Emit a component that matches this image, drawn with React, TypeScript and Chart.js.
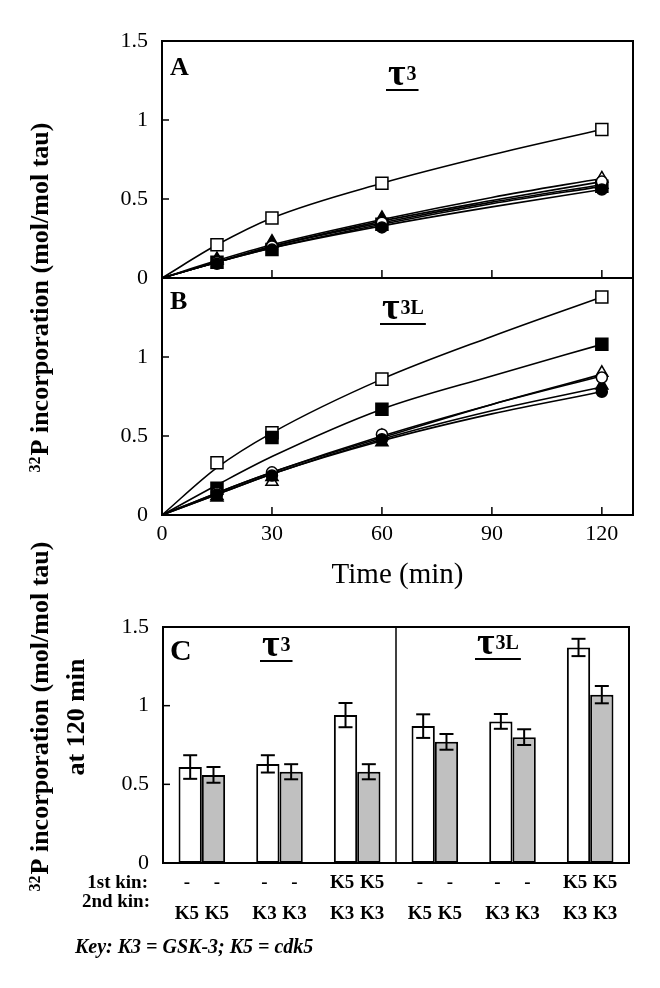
import React, { useEffect, useRef } from "react";
import { Chart, registerables } from "chart.js";

Chart.register(...registerables);

const FONT = '"Liberation Serif", "Times New Roman", Times, serif';

// ---------- Panels A & B : time course ----------
const TIME_MIN = [15, 30, 60, 120];
const FIT_TIME_MIN = [0, 15, 30, 60, 90, 120];
const X_TICK_VALUES = [0, 30, 60, 90, 120];
const Y_TICK_VALUES = [0, 0.5, 1, 1.5];

// Panel A (tau3) – measured points
const A_OPEN_SQUARE = [0.21, 0.38, 0.6, 0.94];
const A_FILLED_SQUARE = [0.1, 0.18, 0.34, 0.58];
const A_OPEN_TRIANGLE = [0.11, 0.23, 0.38, 0.63];
const A_FILLED_TRIANGLE = [0.12, 0.22, 0.37, 0.59];
const A_OPEN_CIRCLE = [0.1, 0.2, 0.35, 0.61];
const A_FILLED_CIRCLE = [0.09, 0.18, 0.32, 0.56];
// Panel A – fitted curves
const A_OPEN_SQUARE_FIT = [0, 0.21, 0.38, 0.6, 0.78, 0.94];
const A_FILLED_SQUARE_FIT = [0, 0.1, 0.19, 0.34, 0.47, 0.58];
const A_OPEN_TRIANGLE_FIT = [0, 0.11, 0.21, 0.37, 0.51, 0.63];
const A_FILLED_TRIANGLE_FIT = [0, 0.1, 0.2, 0.35, 0.48, 0.59];
const A_OPEN_CIRCLE_FIT = [0, 0.1, 0.2, 0.36, 0.49, 0.61];
const A_FILLED_CIRCLE_FIT = [0, 0.1, 0.19, 0.33, 0.45, 0.56];

// Panel B (tau3L) – measured points
const B_OPEN_SQUARE = [0.33, 0.52, 0.86, 1.38];
const B_FILLED_SQUARE = [0.17, 0.49, 0.67, 1.08];
const B_OPEN_TRIANGLE = [0.12, 0.21, 0.5, 0.9];
const B_FILLED_TRIANGLE = [0.11, 0.24, 0.46, 0.82];
const B_OPEN_CIRCLE = [0.14, 0.27, 0.51, 0.87];
const B_FILLED_CIRCLE = [0.13, 0.25, 0.48, 0.78];
// Panel B – fitted curves
const B_OPEN_SQUARE_FIT = [0, 0.3, 0.52, 0.86, 1.13, 1.38];
const B_FILLED_SQUARE_FIT = [0, 0.19, 0.37, 0.67, 0.88, 1.08];
const B_OPEN_TRIANGLE_FIT = [0, 0.14, 0.27, 0.49, 0.7, 0.89];
const B_FILLED_TRIANGLE_FIT = [0, 0.13, 0.26, 0.48, 0.66, 0.81];
const B_OPEN_CIRCLE_FIT = [0, 0.14, 0.27, 0.5, 0.7, 0.88];
const B_FILLED_CIRCLE_FIT = [0, 0.13, 0.26, 0.47, 0.64, 0.78];

// ---------- Panel C : 120 min values ----------
const C_GROUPS = ["τ3 -/K5", "τ3 -/K3", "τ3 K5/K3", "τ3L -/K5", "τ3L -/K3", "τ3L K5/K3"];
const C_WHITE = [0.61, 0.63, 0.94, 0.87, 0.9, 1.37];
const C_WHITE_ERR = [0.075, 0.055, 0.077, 0.075, 0.047, 0.055];
const C_GREY = [0.56, 0.58, 0.58, 0.77, 0.8, 1.07];
const C_GREY_ERR = [0.05, 0.048, 0.048, 0.05, 0.05, 0.055];
const FIRST_KIN = ["-", "-", "K5", "-", "-", "K5"];
const SECOND_KIN = ["K5", "K3", "K3", "K5", "K3", "K3"];

// marker styles, in the order of the series lists below
const MARKERS = [
  { style: "rect", filled: false, radius: 8.5 },
  { style: "rect", filled: true, radius: 8.5 },
  { style: "triangle", filled: false, radius: 7 },
  { style: "triangle", filled: true, radius: 7 },
  { style: "circle", filled: false, radius: 5.5 },
  { style: "circle", filled: true, radius: 5.5 },
];

const A_POINTS = [A_OPEN_SQUARE, A_FILLED_SQUARE, A_OPEN_TRIANGLE, A_FILLED_TRIANGLE, A_OPEN_CIRCLE, A_FILLED_CIRCLE];
const A_FITS = [A_OPEN_SQUARE_FIT, A_FILLED_SQUARE_FIT, A_OPEN_TRIANGLE_FIT, A_FILLED_TRIANGLE_FIT, A_OPEN_CIRCLE_FIT, A_FILLED_CIRCLE_FIT];
const B_POINTS = [B_OPEN_SQUARE, B_FILLED_SQUARE, B_OPEN_TRIANGLE, B_FILLED_TRIANGLE, B_OPEN_CIRCLE, B_FILLED_CIRCLE];
const B_FITS = [B_OPEN_SQUARE_FIT, B_FILLED_SQUARE_FIT, B_OPEN_TRIANGLE_FIT, B_FILLED_TRIANGLE_FIT, B_OPEN_CIRCLE_FIT, B_FILLED_CIRCLE_FIT];

function drawTau(ctx: CanvasRenderingContext2D, x: number, baseline: number, sup: string) {
  ctx.save();
  ctx.fillStyle = "#000";
  ctx.textAlign = "left";
  ctx.textBaseline = "alphabetic";
  ctx.font = `bold 38px ${FONT}`;
  ctx.fillText("τ", x, baseline);
  const w = ctx.measureText("τ").width;
  ctx.font = `bold 20px ${FONT}`;
  ctx.fillText(sup, x + w + 1, baseline - 5);
  const w2 = ctx.measureText(sup).width;
  ctx.fillRect(x - 2, baseline + 4, w + w2 + 5, 2);
  ctx.restore();
}

function drawYTitle(ctx: CanvasRenderingContext2D, cx: number, cy: number, extraLine?: string, extraCx?: number) {
  ctx.save();
  ctx.fillStyle = "#000";
  ctx.translate(cx, cy);
  ctx.rotate(-Math.PI / 2);
  ctx.textBaseline = "alphabetic";
  ctx.textAlign = "left";
  const sup = "32";
  const main = "P incorporation (mol/mol tau)";
  ctx.font = `bold 16px ${FONT}`;
  const w1 = ctx.measureText(sup).width;
  ctx.font = `bold 26px ${FONT}`;
  const w2 = ctx.measureText(main).width;
  const start = -(w1 + w2) / 2;
  ctx.font = `bold 16px ${FONT}`;
  ctx.fillText(sup, start, 0);
  ctx.font = `bold 26px ${FONT}`;
  ctx.fillText(main, start + w1 + 1, 8);
  ctx.restore();
  if (extraLine && extraCx !== undefined) {
    ctx.save();
    ctx.fillStyle = "#000";
    ctx.translate(extraCx, cy);
    ctx.rotate(-Math.PI / 2);
    ctx.font = `bold 26px ${FONT}`;
    ctx.textAlign = "center";
    ctx.textBaseline = "alphabetic";
    ctx.fillText(extraLine, 0, 8);
    ctx.restore();
  }
}

function line(ctx: CanvasRenderingContext2D, x1: number, y1: number, x2: number, y2: number) {
  ctx.beginPath();
  ctx.moveTo(x1, y1);
  ctx.lineTo(x2, y2);
  ctx.stroke();
}

const abPlugin = {
  id: "abDecor",
  afterDraw(chart: any) {
    const { ctx, chartArea } = chart;
    const x = chart.scales.x;
    const yA = chart.scales.yA;
    const yB = chart.scales.yB;
    ctx.save();
    ctx.strokeStyle = "#000";
    ctx.lineWidth = 2;
    [yA, yB].forEach((s: any) => {
      ctx.strokeRect(chartArea.left, s.top, chartArea.right - chartArea.left, s.bottom - s.top);
    });
    ctx.lineWidth = 1.5;
    [yA, yB].forEach((s: any) => {
      Y_TICK_VALUES.forEach((v) => {
        if (v === 0 || v === 1.5) return;
        const py = s.getPixelForValue(v);
        line(ctx, chartArea.left, py, chartArea.left + 7, py);
      });
      X_TICK_VALUES.forEach((v) => {
        if (v === 0) return;
        const px = x.getPixelForValue(v);
        line(ctx, px, s.bottom, px, s.bottom - 8);
      });
    });
    ctx.fillStyle = "#000";
    ctx.textAlign = "left";
    ctx.textBaseline = "alphabetic";
    ctx.font = `bold 26px ${FONT}`;
    ctx.fillText("A", chartArea.left + 8, yA.top + 34);
    ctx.fillText("B", chartArea.left + 8, yB.top + 31);
    ctx.restore();
    drawTau(ctx, 388, yA.top + 44, "3");
    drawTau(ctx, 382, yB.top + 41, "3L");
    drawYTitle(ctx, 40, 298);
  },
};

const cPlugin = {
  id: "cDecor",
  afterDraw(chart: any) {
    const { ctx, chartArea } = chart;
    const xs = chart.scales.x;
    const ys = chart.scales.y;
    ctx.save();
    ctx.strokeStyle = "#000";
    ctx.lineWidth = 2;
    ctx.strokeRect(chartArea.left, chartArea.top, chartArea.right - chartArea.left, chartArea.bottom - chartArea.top);
    ctx.lineWidth = 1.5;
    const divX = (xs.getPixelForValue(2) + xs.getPixelForValue(3)) / 2;
    line(ctx, divX, chartArea.top, divX, chartArea.bottom);
    Y_TICK_VALUES.forEach((v) => {
      if (v === 0 || v === 1.5) return;
      const py = ys.getPixelForValue(v);
      line(ctx, chartArea.left, py, chartArea.left + 7, py);
    });
    // error bars
    ctx.lineWidth = 2;
    const errs = [C_WHITE_ERR, C_GREY_ERR];
    const vals = [C_WHITE, C_GREY];
    [0, 1].forEach((d) => {
      const meta = chart.getDatasetMeta(d);
      meta.data.forEach((el: any, i: number) => {
        const top = ys.getPixelForValue(vals[d][i] + errs[d][i]);
        const bot = ys.getPixelForValue(vals[d][i] - errs[d][i]);
        line(ctx, el.x, top, el.x, bot);
        line(ctx, el.x - 7, top, el.x + 7, top);
        line(ctx, el.x - 7, bot, el.x + 7, bot);
      });
    });
    // kinase labels, spread slightly outward from each bar pair's centre
    ctx.fillStyle = "#000";
    ctx.font = `bold 19px ${FONT}`;
    ctx.textBaseline = "middle";
    ctx.textAlign = "center";
    const row1 = chartArea.bottom + 20;
    const row2 = chartArea.bottom + 51;
    [0, 1].forEach((d) => {
      const meta = chart.getDatasetMeta(d);
      meta.data.forEach((el: any, i: number) => {
        const gx = xs.getPixelForValue(i);
        const lx = gx + (d === 0 ? -15 : 15);
        ctx.fillText(FIRST_KIN[i], lx, row1);
        ctx.fillText(SECOND_KIN[i], lx, row2);
      });
    });
    ctx.textAlign = "right";
    ctx.fillText("1st kin:", 148, row1);
    ctx.fillText("2nd kin:", 150, row1 + 19);
    ctx.textAlign = "left";
    ctx.font = `italic bold 20px ${FONT}`;
    ctx.fillText("Key: K3 = GSK-3; K5 = cdk5", 75, chartArea.bottom + 85);
    ctx.textBaseline = "alphabetic";
    ctx.font = `bold 30px ${FONT}`;
    ctx.fillText("C", chartArea.left + 7, chartArea.top + 33);
    ctx.restore();
    drawTau(ctx, 262, chartArea.top + 29, "3");
    drawTau(ctx, 477, chartArea.top + 27, "3L");
    drawYTitle(ctx, 40, 197, "at 120 min", 76);
  },
};

function tickFont() {
  return { family: FONT, size: 22 };
}

export default function App() {
  const abRef = useRef<HTMLCanvasElement>(null);
  const cRef = useRef<HTMLCanvasElement>(null);

  useEffect(() => {
    const datasets: any[] = [];
    const panels = [
      { axis: "yA", points: A_POINTS, fits: A_FITS },
      { axis: "yB", points: B_POINTS, fits: B_FITS },
    ];
    panels.forEach((p) => {
      p.fits.forEach((fit) => {
        datasets.push({
          data: FIT_TIME_MIN.map((t, j) => ({ x: t, y: fit[j] })),
          yAxisID: p.axis,
          borderColor: "#000",
          borderWidth: 1.6,
          pointRadius: 0,
          cubicInterpolationMode: "monotone",
          fill: false,
          order: 100,
        });
      });
      p.points.forEach((pts, i) => {
        const m = MARKERS[i];
        datasets.push({
          data: TIME_MIN.map((t, j) => ({ x: t, y: pts[j] })),
          yAxisID: p.axis,
          showLine: false,
          pointStyle: m.style,
          pointRadius: m.radius,
          pointBackgroundColor: m.filled ? "#000" : "#fff",
          pointBorderColor: "#000",
          pointBorderWidth: 1.5,
          order: 10 - i,
        });
      });
    });

    const yAxis = (hideTop: boolean) => ({
      type: "linear",
      position: "left",
      stack: "ab",
      stackWeight: 1,
      min: 0,
      max: 1.5,
      afterBuildTicks: (s: any) => {
        s.ticks = Y_TICK_VALUES.map((v) => ({ value: v }));
      },
      afterFit: (s: any) => {
        s.width = 162;
      },
      ticks: {
        font: tickFont(),
        color: "#000",
        padding: 14,
        callback: (v: any) => (hideTop && v === 1.5 ? "" : String(v)),
      },
      grid: { display: false, drawTicks: false },
      border: { display: false },
    });

    const ab = new Chart(abRef.current as HTMLCanvasElement, {
      type: "line",
      data: { datasets },
      options: {
        animation: false,
        responsive: false,
        maintainAspectRatio: false,
        layout: { padding: { top: 41, right: 27, left: 0, bottom: 0 } },
        plugins: { legend: { display: false }, tooltip: { enabled: false } },
        scales: {
          x: {
            type: "linear",
            min: 0,
            max: 128.5,
            afterBuildTicks: (s: any) => {
              s.ticks = X_TICK_VALUES.map((v) => ({ value: v }));
            },
            afterFit: (s: any) => {
              s.height = 85;
            },
            ticks: { font: tickFont(), color: "#000", padding: 6, maxRotation: 0, autoSkip: false },
            grid: { display: false, drawTicks: false },
            border: { display: false },
            title: {
              display: true,
              text: "Time (min)",
              color: "#000",
              font: { family: FONT, size: 29 },
              padding: { top: 0, bottom: 7 },
            },
          },
          // stacked axes: the first one declared is placed at the bottom
          yB: yAxis(true),
          yA: yAxis(false),
        } as any,
      },
      plugins: [abPlugin],
    } as any);

    const c = new Chart(cRef.current as HTMLCanvasElement, {
      type: "bar",
      data: {
        labels: C_GROUPS,
        datasets: [
          {
            data: C_WHITE,
            backgroundColor: "#ffffff",
            borderColor: "#000",
            borderWidth: 2,
            borderSkipped: false,
            categoryPercentage: 0.6,
            barPercentage: 1,
          },
          {
            data: C_GREY,
            backgroundColor: "#c0c0c0",
            borderColor: "#000",
            borderWidth: 2,
            borderSkipped: false,
            categoryPercentage: 0.6,
            barPercentage: 1,
          },
        ],
      },
      options: {
        animation: false,
        responsive: false,
        maintainAspectRatio: false,
        layout: { padding: { top: 107, right: 31, left: 0, bottom: 125 } },
        plugins: { legend: { display: false }, tooltip: { enabled: false } },
        scales: {
          x: { display: false },
          y: {
            min: 0,
            max: 1.5,
            afterBuildTicks: (s: any) => {
              s.ticks = Y_TICK_VALUES.map((v) => ({ value: v }));
            },
            afterFit: (s: any) => {
              s.width = 163;
            },
            ticks: { font: tickFont(), color: "#000", padding: 14, callback: (v: any) => String(v) },
            grid: { display: false, drawTicks: false },
            border: { display: false },
          },
        },
      },
      plugins: [cPlugin],
    } as any);

    return () => {
      ab.destroy();
      c.destroy();
    };
  }, []);

  return (
    <div style={{ position: "absolute", left: 0, top: 0, width: 660, height: 988, background: "#fff" }}>
      <canvas
        ref={abRef}
        width={660}
        height={600}
        style={{ position: "absolute", left: 0, top: 0, width: 660, height: 600 }}
      />
      <canvas
        ref={cRef}
        width={660}
        height={468}
        style={{ position: "absolute", left: 0, top: 520, width: 660, height: 468 }}
      />
    </div>
  );
}
